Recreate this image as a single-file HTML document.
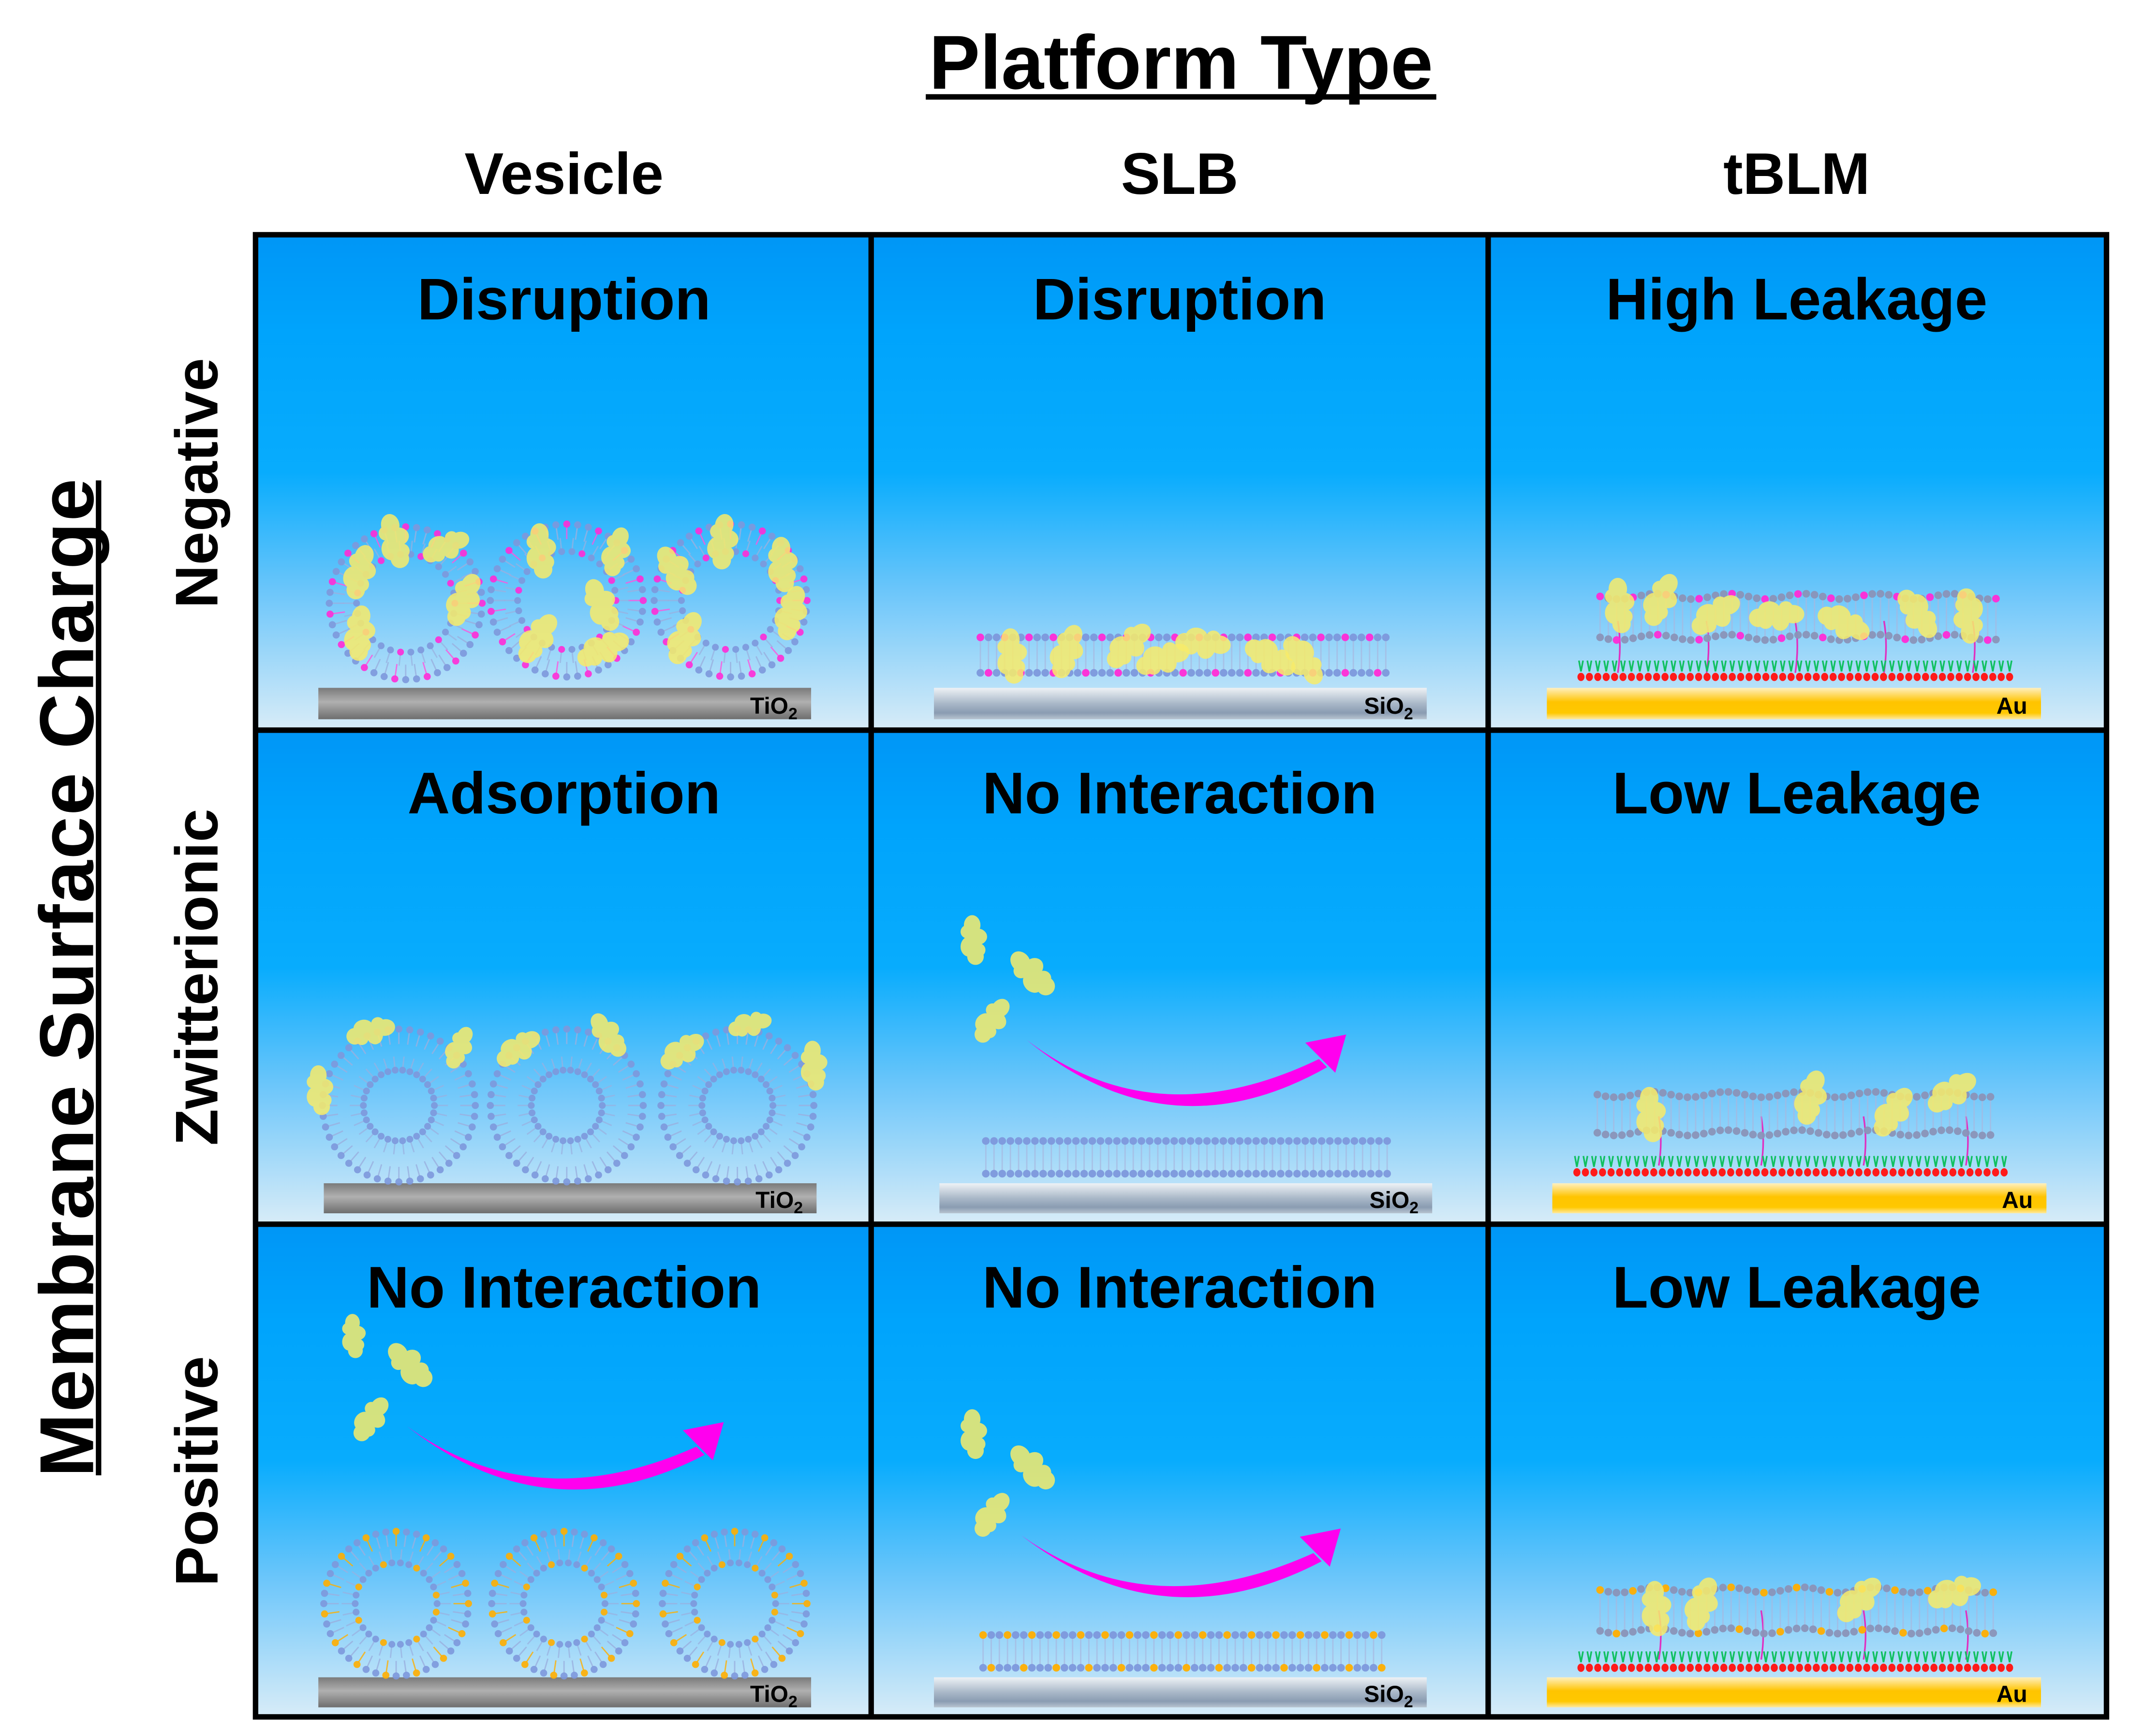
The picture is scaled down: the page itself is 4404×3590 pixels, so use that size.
<!DOCTYPE html>
<html><head><meta charset="utf-8"><style>
html,body{margin:0;padding:0;background:#fff;}
svg{display:block;}
text{font-family:"Liberation Sans",Arial,sans-serif;font-weight:bold;fill:#000;}
</style></head><body>
<svg id="s" xmlns="http://www.w3.org/2000/svg" width="4404" height="3590" viewBox="0 0 1560 1272">
<defs>
<linearGradient id="cell" x1="0" y1="0" x2="0" y2="1">
<stop offset="0" stop-color="#0096f6"/><stop offset="0.2" stop-color="#00a4fc"/><stop offset="0.48" stop-color="#08acfd"/><stop offset="0.72" stop-color="#6cc6fa"/><stop offset="1" stop-color="#d8ecf8"/></linearGradient>
<linearGradient id="ti" x1="0" y1="0" x2="0" y2="1"><stop offset="0" stop-color="#7a7a7a"/><stop offset="0.45" stop-color="#b0b0b0"/><stop offset="1" stop-color="#6e6e6e"/></linearGradient>
<linearGradient id="si" x1="0" y1="0" x2="0" y2="1"><stop offset="0" stop-color="#eef2f6"/><stop offset="0.5" stop-color="#a9b8c8"/><stop offset="0.8" stop-color="#8a9cb2"/><stop offset="1" stop-color="#b8c4d0"/></linearGradient>
<linearGradient id="au" x1="0" y1="0" x2="0" y2="1"><stop offset="0" stop-color="#fff0c0"/><stop offset="0.45" stop-color="#ffc400"/><stop offset="0.8" stop-color="#ffc800"/><stop offset="1" stop-color="#ffe9a0"/></linearGradient>
</defs>
<g id="cells"></g>
<g id="art"></g>
<g id="grid" stroke="#000" stroke-width="4" fill="none">
<rect x="187" y="172" width="1356" height="1086"/>
<line x1="638" y1="172" x2="638" y2="1258"/><line x1="1090" y1="172" x2="1090" y2="1258"/>
<line x1="187" y1="535" x2="1543" y2="535"/><line x1="187" y1="897" x2="1543" y2="897"/>
</g>
<text x="865" y="65" font-size="56" text-anchor="middle">Platform Type</text>
<rect x="678" y="69" width="374" height="4" fill="#000"/>
<text x="413" y="142" font-size="43" text-anchor="middle">Vesicle</text>
<text x="864" y="142" font-size="43" text-anchor="middle">SLB</text>
<text x="1316" y="142" font-size="43" text-anchor="middle">tBLM</text>
<g font-size="43" text-anchor="middle">
<text x="413" y="234">Disruption</text><text x="864" y="234">Disruption</text><text x="1316" y="234">High Leakage</text>
<text x="413" y="596">Adsorption</text><text x="864" y="596">No Interaction</text><text x="1316" y="596">Low Leakage</text>
<text x="413" y="958">No Interaction</text><text x="864" y="958">No Interaction</text><text x="1316" y="958">Low Leakage</text>
</g>
<g font-size="44" text-anchor="middle">
<text transform="translate(159,354) rotate(-90)">Negative</text>
<text transform="translate(159,716) rotate(-90)">Zwitterionic</text>
<text transform="translate(159,1078) rotate(-90)">Positive</text>
</g>
<text transform="translate(68,716) rotate(-90)" font-size="56" text-anchor="middle" letter-spacing="1">Membrane Surface Charge</text>
<rect x="70" y="352" width="4" height="729" fill="#000"/>
</svg>
<script>
var NS="http://www.w3.org/2000/svg";
var cells=document.getElementById('cells'),art=document.getElementById('art');
function el(p,n,a){var e=document.createElementNS(NS,n);for(var k in a)e.setAttribute(k,a[k]);p.appendChild(e);return e;}
var xs=[187,638,1090,1543],ys=[172,535,897,1258];
for(var i=0;i<3;i++)for(var j=0;j<3;j++)el(cells,'rect',{x:xs[i],y:ys[j],width:xs[i+1]-xs[i],height:ys[j+1]-ys[j],fill:'url(#cell)'});
function dot(x,y,r,c,o){el(art,'circle',{cx:x,cy:y,r:r,fill:c,opacity:o||1});}
function line(x1,y1,x2,y2,c,w,o){el(art,'line',{x1:x1,y1:y1,x2:x2,y2:y2,stroke:c,'stroke-width':w,opacity:o||1});}
function protein(x,y,s,rot){s*=1.35;var g=el(art,'g',{transform:'translate('+x+','+y+') rotate('+rot+') scale('+s+')',opacity:0.85});
 var pts=[[0,-10,5,6],[3,-3,6,5],[-2,3,5,6],[2,9,5,5],[-3,-6,4,4],[4,5,4,4]];
 pts.forEach(function(p){el(g,'ellipse',{cx:p[0],cy:p[1],rx:p[2],ry:p[3],fill:'#f8ec6a'});});}
function substrate(x,y,w,h,fill,label,sub){el(art,'rect',{x:x,y:y,width:w,height:h,fill:fill});
 var t=el(art,'text',{x:x+w-10,y:y+h-4,'font-size':17,'text-anchor':'end'});t.textContent=label;
 if(sub){var ts=el(t,'tspan',{'font-size':12,dy:4});ts.textContent='2';}}
function vesicle(cx,cy,R,r,col,type){
 var n=44;for(var k=0;k<n;k++){var a=k/n*2*Math.PI,c=Math.cos(a),s=Math.sin(a);
  var hc='#7d98dc';if(type=='neg'&&k%3==0)hc='#ff2bd6';if(type=='pos'&&k%3==0)hc='#ffae00';
  line(cx+c*(R-2),cy+s*(R-2),cx+c*(R-11),cy+s*(R-11),type=='pos'&&k%3==0?'#ffb000':(type=='neg'&&k%3==0?'#ff55e0':'#9ab0e0'),1,0.8);
  dot(cx+c*R,cy+s*R,2.6,hc,0.9);}
 var m=30;for(var k=0;k<m;k++){var a=k/m*2*Math.PI,c=Math.cos(a),s=Math.sin(a);
  var hc='#7d98dc';if(type=='neg'&&k%4==0)hc='#ff2bd6';if(type=='pos'&&k%4==1)hc='#ffae00';
  line(cx+c*(r+2),cy+s*(r+2),cx+c*(r+10),cy+s*(r+10),'#9ab0e0',1,0.7);
  dot(cx+c*r,cy+s*r,2.5,hc,0.9);}}
function bilayer(x1,x2,yt,yb,type,wav){var n=Math.round((x2-x1)/6);
 for(var k=0;k<=n;k++){var x=x1+k*(x2-x1)/n,dy=wav?Math.sin(k*0.7)*wav:0;
  var ht='#7d98dc',hb='#7d98dc';
  if(type=='neg'){if(k%3==0)ht='#ff2bd6';if(k%4==1)hb='#ff2bd6';}
  if(type=='pos'){if(k%3==0)ht='#ffae00';if(k%4==1)hb='#ffae00';}
  if(type=='tb'){ht=hb='#8a94b8';if(k%4==0)ht='#ff2bd6';if(k%5==2)hb='#ff2bd6';}
  if(type=='tbp'){ht=hb='#8a94b8';if(k%4==0)ht='#ffae00';if(k%5==2)hb='#ffae00';}
  if(type=='tbz'){ht=hb='#8a94b8';}
  line(x,yt+dy+2,x,yb+dy-2,'#a8b8e0',1,0.7);
  dot(x,yt+dy,2.8,ht,0.95);dot(x,yb+dy,2.8,hb,0.95);}}
function tether(x1,x2,yb){var n=Math.round((x2-x1)/6.2);
 for(var k=0;k<=n;k++){var x=x1+k*(x2-x1)/n;
  line(x-1.5,yb-10,x,yb-2,'#10c060',1.2);line(x+1.5,yb-10,x,yb-2,'#10c060',1.2);
  el(art,'ellipse',{cx:x,cy:yb+2,rx:2.6,ry:3,fill:'#ff1a1a'});}}
function arrow(x1,y1,x2,y2,depth){
 var cx=(x1+x2)/2,by=Math.max(y1,y2)+depth;
 var d='M'+x1+','+y1+' Q'+(cx-20)+','+(by+depth*0.6)+' '+(x2-14)+','+(y2+14)+' L'+(x2-8)+','+(y2+20)+' Q'+(cx-10)+','+(by+depth*0.9)+' '+x1+','+y1+' Z';
 el(art,'path',{d:d,fill:'#ff00ee'});
 el(art,'path',{d:'M'+(x2-24)+','+(y2+2)+' L'+(x2+6)+','+(y2-4)+' L'+(x2-2)+','+(y2+24)+' Z',fill:'#ff00ee'});}
substrate(233,504,361,23,'url(#ti)','TiO',1);substrate(684,504,361,23,'url(#si)','SiO',1);substrate(1133,504,362,23,'url(#au)','Au');
substrate(237,867,361,22,'url(#ti)','TiO',1);substrate(688,867,361,22,'url(#si)','SiO',1);substrate(1137,867,362,22,'url(#au)','Au');
substrate(233,1229,361,22,'url(#ti)','TiO',1);substrate(684,1229,361,22,'url(#si)','SiO',1);substrate(1133,1229,362,22,'url(#au)','Au');
[[297,442],[415,440],[535,440]].forEach(function(c){vesicle(c[0],c[1],56,36,'',"neg");});
[[262,420,1,20],[288,398,1,-10],[325,400,0.9,70],[338,440,1,30],[262,465,1,10],[395,405,1,0],[450,405,0.9,20],[440,445,1,-20],[392,468,1,40],[440,475,1,70],[528,398,1,10],[495,420,1,-30],[572,415,1,0],[578,450,1,20],[500,468,1,30]].forEach(function(p){protein(p[0],p[1],p[2],p[3]);});
bilayer(718,1015,467,493,'neg');
[[740,482],[780,478],[825,473],[850,482],[880,470],[930,480],[955,482]].forEach(function(p,i){protein(p[0],p[1],1,i*25);});
for(var k=0;k<5;k++){var tx=1185+k*65;el(art,'path',{d:'M'+tx+',455 q3,18 0,38',stroke:'#e030c0','stroke-width':1.2,fill:'none'});}
bilayer(1172,1462,437,467,'tb',2);tether(1158,1472,494);
[[1185,445],[1215,440],[1255,450],[1300,450],[1350,455],[1405,448],[1443,450]].forEach(function(p,i){protein(p[0],p[1],1,i*30);});
[[292,810],[415,810],[540,810]].forEach(function(c){vesicle(c[0],c[1],56,26,'','zw');});
[[233,800,0.9,0],[270,755,0.9,80],[335,768,0.8,30],[378,768,0.9,60],[445,760,0.9,-30],[498,770,0.9,60],[548,750,0.8,80],[595,782,0.9,0]].forEach(function(p){protein(p[0],p[1],p[2],p[3]);});
bilayer(722,1016,836,860,'zw');
protein(712,690,0.9,0);protein(756,715,1,-40);protein(725,748,0.9,40);
arrow(752,762,980,762,45);
for(var k=0;k<4;k++){var tx=1215+k*75;el(art,'path',{d:'M'+tx+',818 q3,18 0,36',stroke:'#e030c0','stroke-width':1.2,fill:'none'});}
bilayer(1170,1458,802,830,'tbz',2);tether(1155,1468,857);
[[1208,818],[1325,805],[1385,815],[1428,800]].forEach(function(p,i){protein(p[0],p[1],1,i*20);});
[[290,1175],[413,1175],[538,1175]].forEach(function(c){vesicle(c[0],c[1],53,30,'','pos');});
protein(258,980,0.8,0);protein(300,1002,1,-40);protein(270,1040,0.9,40);
arrow(298,1045,524,1046,42);
bilayer(720,1012,1198,1222,'pos');
protein(712,1052,0.9,0);protein(756,1077,1,-40);protein(725,1110,0.9,40);
arrow(748,1125,976,1124,42);
for(var k=0;k<4;k++){var tx=1215+k*75;el(art,'path',{d:'M'+tx+',1180 q3,18 0,36',stroke:'#e030c0','stroke-width':1.2,fill:'none'});}
bilayer(1172,1460,1165,1195,'tbp',2);tether(1158,1472,1220);
[[1212,1180],[1245,1176],[1360,1172],[1430,1166]].forEach(function(p,i){protein(p[0],p[1],1,i*25);});
</script>
</body></html>
